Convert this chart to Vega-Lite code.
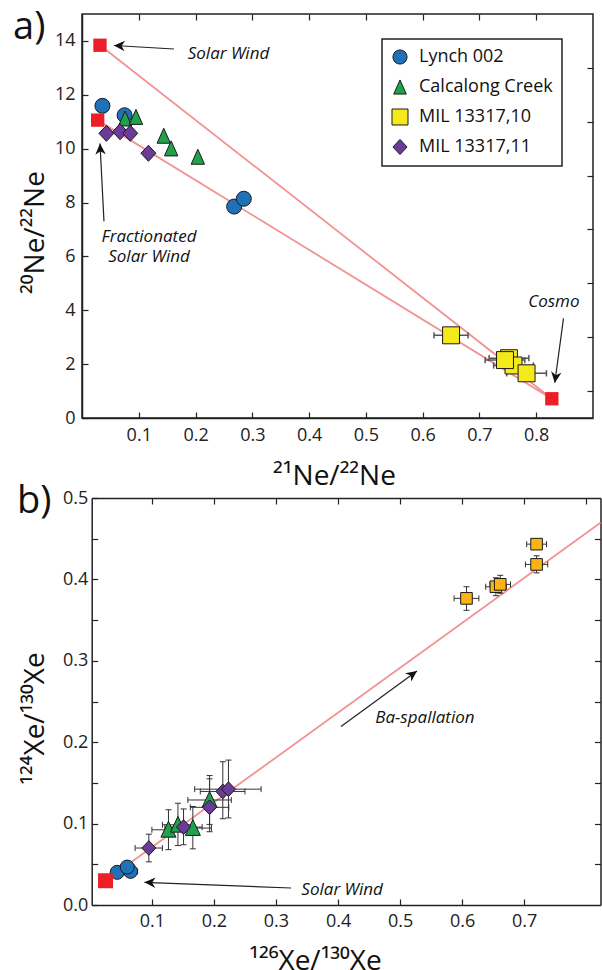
{
  "$schema": "https://vega.github.io/schema/vega-lite/v6.json",
  "padding": {"left": 12, "top": 8, "right": 0, "bottom": 0},
  "spacing": -9,
  "config": {
    "font": "Open Sans",
    "view": {"stroke": "#222", "strokeWidth": 1.5},
    "axis": {"domainColor": "#222", "domainWidth": 1.5, "tickColor": "#222", "tickWidth": 1.2, "labelColor": "#222", "labelFontSize": 18, "labelFont": "Open Sans", "titleFont": "Open Sans", "titleFontWeight": "normal", "titleColor": "#111", "titleFontSize": 28, "grid": false, "labelFlush": false, "labelOverlap": false},
    "legend": {"strokeWidth": 1.5}
  },
  "resolve": {"scale": {"color": "independent", "shape": "independent"}, "legend": {"color": "independent", "shape": "independent"}},
  "datasets": {
    "neSamples": [
      {"sample": "Lynch 002", "x": 0.036, "y": 11.59},
      {"sample": "Lynch 002", "x": 0.075, "y": 11.24},
      {"sample": "Lynch 002", "x": 0.268, "y": 7.85},
      {"sample": "Lynch 002", "x": 0.285, "y": 8.14},
      {"sample": "Calcalong Creek", "x": 0.076, "y": 11.12},
      {"sample": "Calcalong Creek", "x": 0.095, "y": 11.18},
      {"sample": "Calcalong Creek", "x": 0.144, "y": 10.48},
      {"sample": "Calcalong Creek", "x": 0.157, "y": 10.01},
      {"sample": "Calcalong Creek", "x": 0.204, "y": 9.70},
      {"sample": "MIL 13317,10", "x": 0.650, "y": 3.07, "xlo": 0.620, "xhi": 0.680},
      {"sample": "MIL 13317,10", "x": 0.752, "y": 2.22, "xlo": 0.717, "xhi": 0.787},
      {"sample": "MIL 13317,10", "x": 0.760, "y": 1.95, "xlo": 0.725, "xhi": 0.795},
      {"sample": "MIL 13317,10", "x": 0.745, "y": 2.15, "xlo": 0.710, "xhi": 0.780},
      {"sample": "MIL 13317,10", "x": 0.783, "y": 1.66, "xlo": 0.748, "xhi": 0.818},
      {"sample": "MIL 13317,11", "x": 0.043, "y": 10.57},
      {"sample": "MIL 13317,11", "x": 0.067, "y": 10.63},
      {"sample": "MIL 13317,11", "x": 0.085, "y": 10.57},
      {"sample": "MIL 13317,11", "x": 0.117, "y": 9.83}
    ],
    "neLines": [
      {"line": "SW", "x": 0.0317, "y": 13.84},
      {"line": "SW", "x": 0.8275, "y": 0.715},
      {"line": "FSW", "x": 0.0276, "y": 11.06},
      {"line": "FSW", "x": 0.8275, "y": 0.715}
    ],
    "neEnds": [
      {"name": "Solar Wind", "x": 0.0317, "y": 13.84},
      {"name": "Fractionated Solar Wind", "x": 0.0276, "y": 11.06},
      {"name": "Cosmo", "x": 0.8275, "y": 0.715}
    ],
    "neArrows": [
      {"x": 0.162, "y": 13.70, "x2": 0.0563, "y2": 13.83, "angle": 273},
      {"x": 0.0387, "y": 7.30, "x2": 0.0317, "y2": 10.19, "angle": 357},
      {"x": 0.848, "y": 3.70, "x2": 0.8327, "y2": 1.31, "angle": 188}
    ],
    "neText": [
      {"text": "Solar Wind", "x": 0.258, "y": 13.33},
      {"text": "Fractionated\nSolar Wind", "x": 0.118, "y": 6.52},
      {"text": "Cosmo", "x": 0.831, "y": 4.11}
    ],
    "neLabel": [
      {"text": "a)", "x": -0.1215, "y": 14.07}
    ],
    "xeSamples": [
      {"sample": "Lynch 002", "x": 0.0441, "y": 0.0401, "xlo": 0.034, "xhi": 0.055, "ylo": 0.035, "yhi": 0.045},
      {"sample": "Lynch 002", "x": 0.0656, "y": 0.0413, "xlo": 0.054, "xhi": 0.077, "ylo": 0.036, "yhi": 0.047},
      {"sample": "Lynch 002", "x": 0.0602, "y": 0.0466, "xlo": 0.050, "xhi": 0.071, "ylo": 0.041, "yhi": 0.052},
      {"sample": "Calcalong Creek", "x": 0.1267, "y": 0.0924, "xlo": 0.100, "xhi": 0.154, "ylo": 0.068, "yhi": 0.117},
      {"sample": "Calcalong Creek", "x": 0.142, "y": 0.0985, "xlo": 0.117, "xhi": 0.167, "ylo": 0.073, "yhi": 0.125},
      {"sample": "Calcalong Creek", "x": 0.166, "y": 0.0945, "xlo": 0.136, "xhi": 0.196, "ylo": 0.069, "yhi": 0.121},
      {"sample": "Calcalong Creek", "x": 0.193, "y": 0.129, "xlo": 0.158, "xhi": 0.228, "ylo": 0.099, "yhi": 0.159},
      {"sample": "MIL 13317,10", "x": 0.607, "y": 0.3767, "xlo": 0.587, "xhi": 0.627, "ylo": 0.362, "yhi": 0.391},
      {"sample": "MIL 13317,10", "x": 0.6544, "y": 0.391, "xlo": 0.638, "xhi": 0.671, "ylo": 0.380, "yhi": 0.402},
      {"sample": "MIL 13317,10", "x": 0.6614, "y": 0.3939, "xlo": 0.645, "xhi": 0.678, "ylo": 0.383, "yhi": 0.405},
      {"sample": "MIL 13317,10", "x": 0.72, "y": 0.4184, "xlo": 0.702, "xhi": 0.738, "ylo": 0.408, "yhi": 0.429},
      {"sample": "MIL 13317,10", "x": 0.72, "y": 0.4433, "xlo": 0.704, "xhi": 0.736, "ylo": 0.437, "yhi": 0.449},
      {"sample": "MIL 13317,11", "x": 0.0951, "y": 0.0700, "xlo": 0.073, "xhi": 0.117, "ylo": 0.053, "yhi": 0.087},
      {"sample": "MIL 13317,11", "x": 0.151, "y": 0.0957, "xlo": 0.121, "xhi": 0.181, "ylo": 0.074, "yhi": 0.118},
      {"sample": "MIL 13317,11", "x": 0.193, "y": 0.120, "xlo": 0.162, "xhi": 0.224, "ylo": 0.090, "yhi": 0.155},
      {"sample": "MIL 13317,11", "x": 0.2143, "y": 0.1395, "xlo": 0.178, "xhi": 0.250, "ylo": 0.106, "yhi": 0.176},
      {"sample": "MIL 13317,11", "x": 0.2234, "y": 0.1423, "xlo": 0.169, "xhi": 0.276, "ylo": 0.107, "yhi": 0.178}
    ],
    "xeLine": [
      {"x": 0.0253, "y": 0.0298},
      {"x": 0.823, "y": 0.4695}
    ],
    "xeEnds": [
      {"name": "Solar Wind", "x": 0.0253, "y": 0.0298}
    ],
    "xeArrows": [
      {"x": 0.4048, "y": 0.2193, "x2": 0.5272, "y2": 0.2875, "angle": 54},
      {"x": 0.3243, "y": 0.0209, "x2": 0.0881, "y2": 0.0279, "angle": 272}
    ],
    "xeText": [
      {"text": "Ba-spallation", "x": 0.540, "y": 0.2233},
      {"text": "Solar Wind", "x": 0.4066, "y": 0.0126}
    ],
    "xeLabel": [
      {"text": "b)", "x": -0.1173, "y": 0.4816}
    ]
  },
  "vconcat": [
    {
      "width": 511,
      "height": 404,
      "resolve": {"axis": {"x": "independent", "y": "independent"}},
      "layer": [
        {
          "data": {"name": "neLines"},
          "mark": {"type": "line", "color": "#f29393", "strokeWidth": 1.8},
          "encoding": {
            "x": {"field": "x", "type": "quantitative", "scale": {"domain": [0, 0.9], "nice": false, "zero": false}, "axis": {"orient": "top", "values": [0.1, 0.2, 0.3, 0.4, 0.5, 0.6, 0.7, 0.8], "labels": false, "title": null, "domain": false, "tickSize": -6}},
            "y": {"field": "y", "type": "quantitative", "scale": {"domain": [0, 15], "nice": false, "zero": false}, "axis": {"orient": "right", "values": [1, 3, 5, 7, 9, 11, 13], "labels": false, "title": null, "domain": false, "tickSize": -6}},
            "detail": {"field": "line", "type": "nominal"}
          }
        },
        {
          "data": {"name": "neSamples"},
          "transform": [{"filter": "isValid(datum.xlo)"}],
          "mark": {"type": "rule", "color": "#555", "strokeWidth": 1.5},
          "encoding": {
            "x": {"field": "xlo", "type": "quantitative", "scale": {"domain": [0, 0.9], "nice": false, "zero": false}, "axis": null},
            "x2": {"field": "xhi"},
            "y": {"field": "y", "type": "quantitative", "scale": {"domain": [0, 15], "nice": false, "zero": false}, "axis": null}
          }
        },
        {
          "data": {"name": "neSamples"},
          "transform": [{"filter": "isValid(datum.xlo)"}, {"fold": ["xlo", "xhi"], "as": ["end", "xc"]}],
          "mark": {"type": "point", "shape": "M0,-1L0,1", "filled": false, "color": "#555", "strokeWidth": 1.5, "size": 40, "opacity": 1},
          "encoding": {
            "x": {"field": "xc", "type": "quantitative", "scale": {"domain": [0, 0.9], "nice": false, "zero": false}, "axis": null},
            "y": {"field": "y", "type": "quantitative", "scale": {"domain": [0, 15], "nice": false, "zero": false}, "axis": null}
          }
        },
        {
          "data": {"name": "neSamples"},
          "mark": {"type": "point", "filled": true, "opacity": 1, "stroke": "#1a1a1a", "strokeWidth": 1, "size": 225},
          "encoding": {
            "x": {"field": "x", "type": "quantitative", "scale": {"domain": [0, 0.9], "nice": false, "zero": false}, "axis": {"orient": "bottom", "values": [0.1, 0.2, 0.3, 0.4, 0.5, 0.6, 0.7, 0.8], "format": ".1f", "title": "²¹Ne/²²Ne", "titleX": 252, "titleY": 66, "titleBaseline": "alphabetic", "titleAnchor": "middle", "titleAlign": "center", "labelPadding": 14, "tickSize": -6}},
            "y": {"field": "y", "type": "quantitative", "scale": {"domain": [0, 15], "nice": false, "zero": false}, "axis": {"orient": "left", "values": [0, 2, 4, 6, 8, 10, 12, 14], "format": "d", "title": "²⁰Ne/²²Ne", "titleX": -39, "titleY": 218, "titleBaseline": "alphabetic", "titleAngle": 270, "titleAnchor": "middle", "titleAlign": "center", "labelPadding": 13, "tickSize": -6}},
            "color": {"field": "sample", "type": "nominal", "scale": {"domain": ["Lynch 002", "Calcalong Creek", "MIL 13317,10", "MIL 13317,11"], "range": ["#1f72b8", "#21a24a", "#f4ea1b", "#6b3b98"]}, "legend": {"orient": "none", "legendX": 300, "legendY": 25, "title": null, "direction": "vertical", "labelFontSize": 18, "labelFont": "Open Sans", "labelColor": "#111", "symbolSize": 200, "symbolStrokeColor": "#1a1a1a", "symbolStrokeWidth": 1, "padding": 9, "rowPadding": 10, "labelOffset": 10, "strokeColor": "#222", "fillColor": "white"}},
            "shape": {"field": "sample", "type": "nominal", "scale": {"domain": ["Lynch 002", "Calcalong Creek", "MIL 13317,10", "MIL 13317,11"], "range": ["circle", "M0,-1L0.89,1L-0.89,1Z", "M-1.13,-1.13H1.13V1.13H-1.13Z", "M-1,0L0,-1.07L1,0L0,1.07Z"]}, "legend": {"orient": "none", "legendX": 300, "legendY": 25, "title": null, "direction": "vertical", "labelFontSize": 18, "labelFont": "Open Sans", "labelColor": "#111", "symbolSize": 200, "symbolStrokeColor": "#1a1a1a", "symbolStrokeWidth": 1, "padding": 9, "rowPadding": 10, "labelOffset": 10, "strokeColor": "#222", "fillColor": "white"}}
          }
        },
        {
          "data": {"name": "neEnds"},
          "mark": {"type": "square", "color": "#ec1f26", "size": 177, "opacity": 1},
          "encoding": {
            "x": {"field": "x", "type": "quantitative", "scale": {"domain": [0, 0.9], "nice": false, "zero": false}, "axis": null},
            "y": {"field": "y", "type": "quantitative", "scale": {"domain": [0, 15], "nice": false, "zero": false}, "axis": null}
          }
        },
        {
          "data": {"name": "neArrows"},
          "mark": {"type": "rule", "color": "#222", "strokeWidth": 1.2},
          "encoding": {
            "x": {"field": "x", "type": "quantitative", "scale": {"domain": [0, 0.9], "nice": false, "zero": false}, "axis": null},
            "y": {"field": "y", "type": "quantitative", "scale": {"domain": [0, 15], "nice": false, "zero": false}, "axis": null},
            "x2": {"field": "x2"},
            "y2": {"field": "y2"}
          }
        },
        {
          "data": {"name": "neArrows"},
          "mark": {"type": "point", "shape": "M0,0L-1.1,2.3L0,1.6L1.1,2.3Z", "filled": true, "color": "#111", "size": 90, "opacity": 1},
          "encoding": {
            "x": {"field": "x2", "type": "quantitative", "scale": {"domain": [0, 0.9], "nice": false, "zero": false}, "axis": null},
            "y": {"field": "y2", "type": "quantitative", "scale": {"domain": [0, 15], "nice": false, "zero": false}, "axis": null},
            "angle": {"field": "angle", "type": "quantitative", "scale": null}
          }
        },
        {
          "data": {"name": "neText"},
          "mark": {"type": "text", "font": "Open Sans", "fontStyle": "italic", "fontSize": 17, "align": "center", "baseline": "alphabetic", "lineBreak": "\n", "lineHeight": 20, "color": "#111"},
          "encoding": {
            "x": {"field": "x", "type": "quantitative", "scale": {"domain": [0, 0.9], "nice": false, "zero": false}, "axis": null},
            "y": {"field": "y", "type": "quantitative", "scale": {"domain": [0, 15], "nice": false, "zero": false}, "axis": null},
            "text": {"field": "text"}
          }
        },
        {
          "data": {"name": "neLabel"},
          "mark": {"type": "text", "font": "Open Sans", "fontSize": 38, "align": "left", "baseline": "alphabetic", "color": "#111"},
          "encoding": {
            "x": {"field": "x", "type": "quantitative", "scale": {"domain": [0, 0.9], "nice": false, "zero": false}, "axis": null},
            "y": {"field": "y", "type": "quantitative", "scale": {"domain": [0, 15], "nice": false, "zero": false}, "axis": null},
            "text": {"field": "text"}
          }
        }
      ]
    },
    {
      "width": 518.5,
      "height": 407,
      "view": {"stroke": null},
      "resolve": {"axis": {"x": "independent", "y": "independent"}},
      "layer": [
        {
          "data": {"name": "xeLine"},
          "mark": {"type": "line", "color": "#f29393", "strokeWidth": 1.8},
          "encoding": {
            "x": {"field": "x", "type": "quantitative", "scale": {"domain": [0.003, 0.823], "range": [9.7, 518.5], "nice": false, "zero": false}, "axis": {"orient": "top", "values": [0.1, 0.2, 0.3, 0.4, 0.5, 0.6, 0.7, 0.8], "labels": false, "title": null, "domain": true, "tickSize": -6}},
            "y": {"field": "y", "type": "quantitative", "scale": {"domain": [0, 0.5], "nice": false, "zero": false}, "axis": {"orient": "right", "values": [0.05, 0.1, 0.15, 0.2, 0.25, 0.3, 0.35, 0.4, 0.45], "labels": false, "title": null, "domain": true, "tickSize": -6}}
          }
        },
        {
          "data": {"name": "xeSamples"},
          "mark": {"type": "rule", "color": "#333", "strokeWidth": 1},
          "encoding": {
            "x": {"field": "xlo", "type": "quantitative", "scale": {"domain": [0.003, 0.823], "range": [9.7, 518.5], "nice": false, "zero": false}, "axis": null},
            "x2": {"field": "xhi"},
            "y": {"field": "y", "type": "quantitative", "scale": {"domain": [0, 0.5], "nice": false, "zero": false}, "axis": null}
          }
        },
        {
          "data": {"name": "xeSamples"},
          "mark": {"type": "rule", "color": "#333", "strokeWidth": 1},
          "encoding": {
            "x": {"field": "x", "type": "quantitative", "scale": {"domain": [0.003, 0.823], "range": [9.7, 518.5], "nice": false, "zero": false}, "axis": null},
            "y": {"field": "ylo", "type": "quantitative", "scale": {"domain": [0, 0.5], "nice": false, "zero": false}, "axis": null},
            "y2": {"field": "yhi"}
          }
        },
        {
          "data": {"name": "xeSamples"},
          "transform": [{"fold": ["xlo", "xhi"], "as": ["end", "xc"]}],
          "mark": {"type": "point", "shape": "M0,-1L0,1", "filled": false, "color": "#333", "strokeWidth": 1, "size": 36, "opacity": 1},
          "encoding": {
            "x": {"field": "xc", "type": "quantitative", "scale": {"domain": [0.003, 0.823], "range": [9.7, 518.5], "nice": false, "zero": false}, "axis": null},
            "y": {"field": "y", "type": "quantitative", "scale": {"domain": [0, 0.5], "nice": false, "zero": false}, "axis": null}
          }
        },
        {
          "data": {"name": "xeSamples"},
          "transform": [{"fold": ["ylo", "yhi"], "as": ["end", "yc"]}],
          "mark": {"type": "point", "shape": "M-1,0L1,0", "filled": false, "color": "#333", "strokeWidth": 1, "size": 36, "opacity": 1},
          "encoding": {
            "x": {"field": "x", "type": "quantitative", "scale": {"domain": [0.003, 0.823], "range": [9.7, 518.5], "nice": false, "zero": false}, "axis": null},
            "y": {"field": "yc", "type": "quantitative", "scale": {"domain": [0, 0.5], "nice": false, "zero": false}, "axis": null}
          }
        },
        {
          "data": {"name": "xeSamples"},
          "mark": {"type": "point", "filled": true, "opacity": 1, "stroke": "#1a1a1a", "strokeWidth": 1, "size": 196},
          "encoding": {
            "x": {"field": "x", "type": "quantitative", "scale": {"domain": [0.003, 0.823], "range": [9.7, 518.5], "nice": false, "zero": false}, "axis": {"orient": "bottom", "values": [0.1, 0.2, 0.3, 0.4, 0.5, 0.6, 0.7], "format": ".1f", "title": "¹²⁶Xe/¹³⁰Xe", "titleX": 233, "titleY": 64, "titleBaseline": "alphabetic", "titleAnchor": "middle", "titleAlign": "center", "labelPadding": 13, "tickSize": -6}},
            "y": {"field": "y", "type": "quantitative", "scale": {"domain": [0, 0.5], "nice": false, "zero": false}, "axis": {"orient": "left", "offset": -9.7, "values": [0, 0.05, 0.1, 0.15, 0.2, 0.25, 0.3, 0.35, 0.4, 0.45, 0.5], "labelExpr": "round(datum.value*100) % 10 == 0 ? format(datum.value, '.1f') : ''", "title": "¹²⁴Xe/¹³⁰Xe", "titleX": -48, "titleY": 220, "titleBaseline": "alphabetic", "titleAngle": 270, "titleAnchor": "middle", "titleAlign": "center", "labelPadding": 10, "tickSize": -6}},
            "color": {"field": "sample", "type": "nominal", "scale": {"domain": ["Lynch 002", "Calcalong Creek", "MIL 13317,10", "MIL 13317,11"], "range": ["#1f72b8", "#21a24a", "#fbb416", "#6b3b98"]}, "legend": null},
            "shape": {"field": "sample", "type": "nominal", "scale": {"domain": ["Lynch 002", "Calcalong Creek", "MIL 13317,10", "MIL 13317,11"], "range": ["circle", "M0,-1.2L1.07,1.05L-1.07,1.05Z", "M-0.83,-0.83H0.83V0.83H-0.83Z", "M-1,0L0,-1.05L1,0L0,1.05Z"]}, "legend": null}
          }
        },
        {
          "data": {"name": "xeEnds"},
          "mark": {"type": "square", "color": "#ec1f26", "size": 225, "opacity": 1},
          "encoding": {
            "x": {"field": "x", "type": "quantitative", "scale": {"domain": [0.003, 0.823], "range": [9.7, 518.5], "nice": false, "zero": false}, "axis": null},
            "y": {"field": "y", "type": "quantitative", "scale": {"domain": [0, 0.5], "nice": false, "zero": false}, "axis": null}
          }
        },
        {
          "data": {"name": "xeArrows"},
          "mark": {"type": "rule", "color": "#222", "strokeWidth": 1.2},
          "encoding": {
            "x": {"field": "x", "type": "quantitative", "scale": {"domain": [0.003, 0.823], "range": [9.7, 518.5], "nice": false, "zero": false}, "axis": null},
            "y": {"field": "y", "type": "quantitative", "scale": {"domain": [0, 0.5], "nice": false, "zero": false}, "axis": null},
            "x2": {"field": "x2"},
            "y2": {"field": "y2"}
          }
        },
        {
          "data": {"name": "xeArrows"},
          "mark": {"type": "point", "shape": "M0,0L-1.1,2.3L0,1.6L1.1,2.3Z", "filled": true, "color": "#111", "size": 90, "opacity": 1},
          "encoding": {
            "x": {"field": "x2", "type": "quantitative", "scale": {"domain": [0.003, 0.823], "range": [9.7, 518.5], "nice": false, "zero": false}, "axis": null},
            "y": {"field": "y2", "type": "quantitative", "scale": {"domain": [0, 0.5], "nice": false, "zero": false}, "axis": null},
            "angle": {"field": "angle", "type": "quantitative", "scale": null}
          }
        },
        {
          "data": {"name": "xeText"},
          "mark": {"type": "text", "font": "Open Sans", "fontStyle": "italic", "fontSize": 17, "align": "center", "baseline": "alphabetic", "color": "#111"},
          "encoding": {
            "x": {"field": "x", "type": "quantitative", "scale": {"domain": [0.003, 0.823], "range": [9.7, 518.5], "nice": false, "zero": false}, "axis": null},
            "y": {"field": "y", "type": "quantitative", "scale": {"domain": [0, 0.5], "nice": false, "zero": false}, "axis": null},
            "text": {"field": "text"}
          }
        },
        {
          "data": {"name": "xeLabel"},
          "mark": {"type": "text", "font": "Open Sans", "fontSize": 38, "align": "left", "baseline": "alphabetic", "color": "#111"},
          "encoding": {
            "x": {"field": "x", "type": "quantitative", "scale": {"domain": [0.003, 0.823], "range": [9.7, 518.5], "nice": false, "zero": false}, "axis": null},
            "y": {"field": "y", "type": "quantitative", "scale": {"domain": [0, 0.5], "nice": false, "zero": false}, "axis": null},
            "text": {"field": "text"}
          }
        }
      ]
    }
  ]
}
